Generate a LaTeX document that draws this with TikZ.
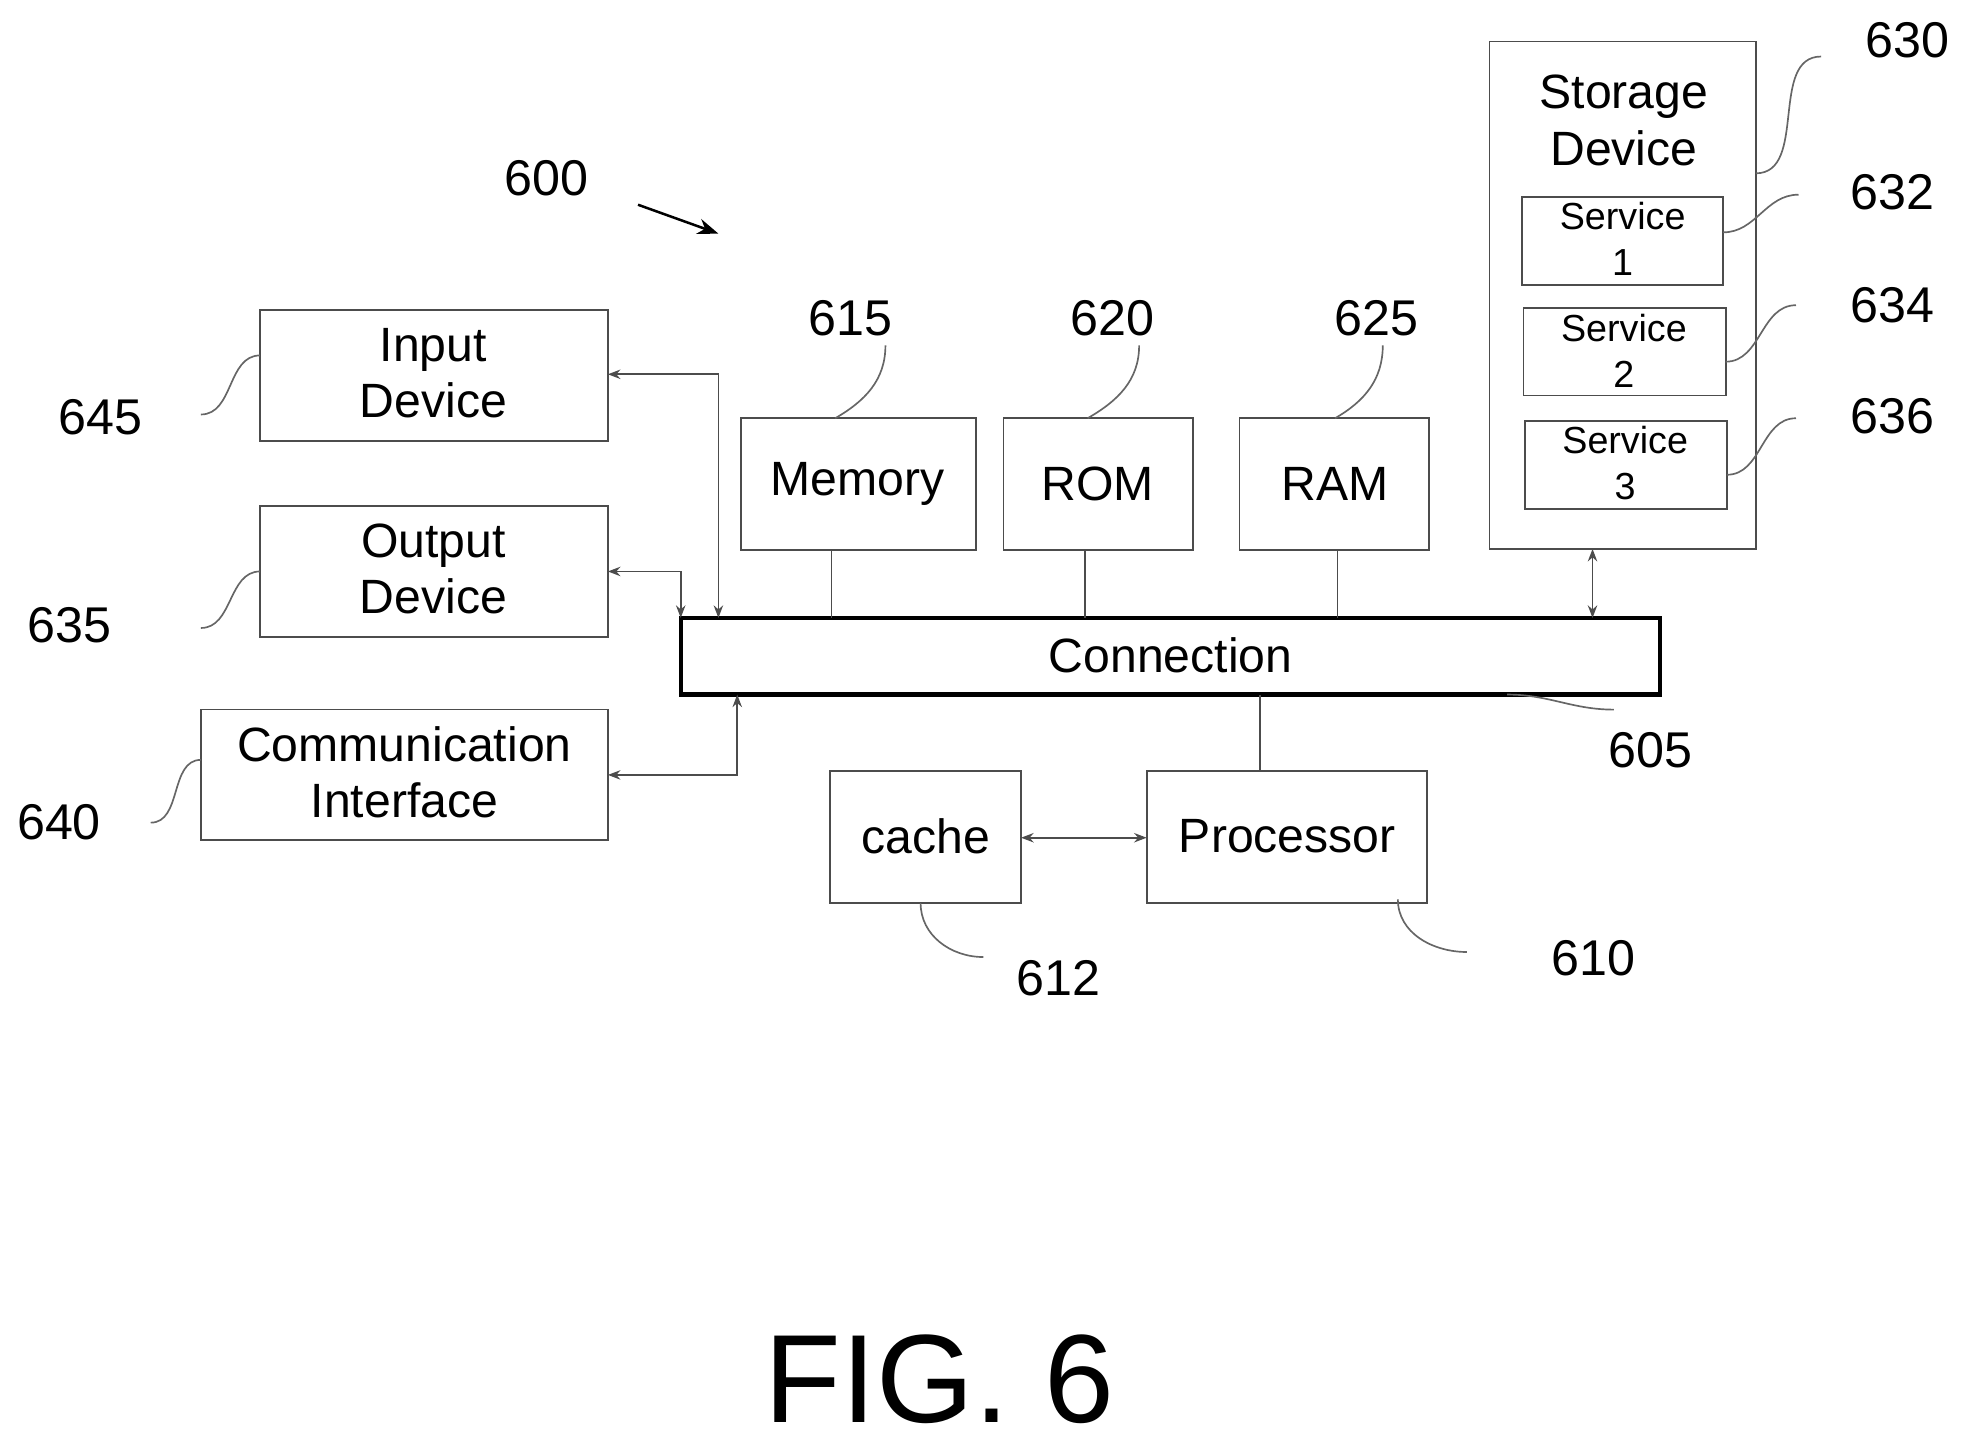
\documentclass[tikz,border=0pt]{standalone}
\usepackage{fontspec}
\setmainfont{Liberation Sans}
\usetikzlibrary{arrows.meta}
\begin{document}
\begin{tikzpicture}[x=0.3pt,y=-0.3pt,
  box/.style={draw=black!70,line width=0.4pt},
  txt/.style={font=\fontsize{11.5}{13.5}\selectfont,align=center},
  stxt/.style={font=\fontsize{9}{11}\selectfont,align=center},
  lbl/.style={font=\fontsize{12}{14}\selectfont},
  conn/.style={draw=black!70,line width=0.4pt},
  arr/.style={conn,{Stealth[length=3pt]}-{Stealth[length=3pt]}},
  lead/.style={draw=black!60,line width=0.4pt}]
\useasboundingbox (0,0) rectangle (1563,1148);
% boxes
\draw[box] (207,247) rectangle (484,351); \node[txt] (in) at (345,297) {Input\\Device};
\coordinate (inE) at (484,298);
\draw[box] (207,403) rectangle (484,507); \node[txt] (out) at (345,453) {Output\\Device};
\coordinate (outE) at (484,455);
\draw[box] (160,565) rectangle (484,669); \node[txt] (com) at (322,615) {Communication\\Interface};
\coordinate (comE) at (484,617);
\draw[box] (590,333) rectangle (777,438); \node[txt] (mem) at (683,385) {Memory};
\draw[box] (799,333) rectangle (950,438); \node[txt] (rom) at (874,385) {ROM};
\draw[box] (987,333) rectangle (1138,438); \node[txt] (ram) at (1063,385) {RAM};
\draw[box] (1186,33) rectangle (1398,437); \node[txt] (sto) at (1293,96) {Storage\\Device};
\draw[box] (1212,157) rectangle (1372,227); \node[stxt] (s1) at (1292,190) {Service\\1};
\draw[box] (1213,245) rectangle (1374,315); \node[stxt] (s2) at (1293,279) {Service\\2};
\draw[box] (1214,335) rectangle (1375,405); \node[stxt] (s3) at (1294,369) {Service\\3};
\draw[line width=1pt] (542,492) rectangle (1322,553); \node[txt] (cn) at (932,522) {Connection};
\draw[box] (661,614) rectangle (813,719); \node[txt] (ca) at (737,666) {cache};
\draw[box] (913,614) rectangle (1136,719); \node[txt] (pr) at (1025,666) {Processor};
% connectors
\draw[arr] (inE) -- (572,298) -- (572,492);
\draw[arr] (outE) -- (542,455) -- (542,492);
\draw[arr] (comE) -- (587,617) -- (587,553);
\draw[conn] (662,438) -- (662,492);
\draw[conn] (864,438) -- (864,492);
\draw[conn] (1065,438) -- (1065,492);
\draw[arr] (1268,437) -- (1268,492);
\draw[conn] (1003,553) -- (1003,614);
\draw[arr] (813,667) -- (913,667);
% labels
\node[lbl] (l600) at (435,142) {600};
\draw[-{Stealth[length=5pt]},line width=0.6pt] (508,163) -- (572,186);
\node[lbl] (l615) at (677,253) {615}; \draw[lead] (705,275) to[out=-90,in=30] (665,333);
\node[lbl] (l620) at (886,253) {620}; \draw[lead] (907,275) to[out=-90,in=30] (866,333);
\node[lbl] (l625) at (1096,253) {625}; \draw[lead] (1101,275) to[out=-90,in=30] (1063,333);
\node[lbl] (l645) at (80,332) {645}; \draw[lead] (160,330) to[out=0,in=180] (207,283);
\node[lbl] (l635) at (55,498) {635}; \draw[lead] (160,500) to[out=0,in=180] (207,455);
\node[lbl] (l640) at (47,655) {640}; \draw[lead] (120,655) to[out=0,in=180] (160,605);
\node[lbl] (l630) at (1519,32) {630}; \draw[lead] (1450,45) to[out=180,in=0] (1398,138);
\node[lbl] (l632) at (1507,153) {632}; \draw[lead] (1432,155) to[out=180,in=0] (1372,185);
\node[lbl] (l634) at (1507,243) {634}; \draw[lead] (1430,243) to[out=180,in=0] (1374,288);
\node[lbl] (l636) at (1507,331) {636}; \draw[lead] (1430,333) to[out=180,in=0] (1375,378);
\node[lbl] (l605) at (1314,597) {605}; \draw[lead] (1285,565) to[out=180,in=0] (1200,553);
\node[lbl] (l612) at (843,779) {612}; \draw[lead] (783,762) to[out=180,in=-90] (733,719);
\node[lbl] (l610) at (1269,763) {610}; \draw[lead] (1168,758) to[out=180,in=-90] (1113,716);
\node[font=\fontsize{30}{36}\selectfont] (fig) at (748,1098) {FIG. 6};
\end{tikzpicture}
\end{document}
